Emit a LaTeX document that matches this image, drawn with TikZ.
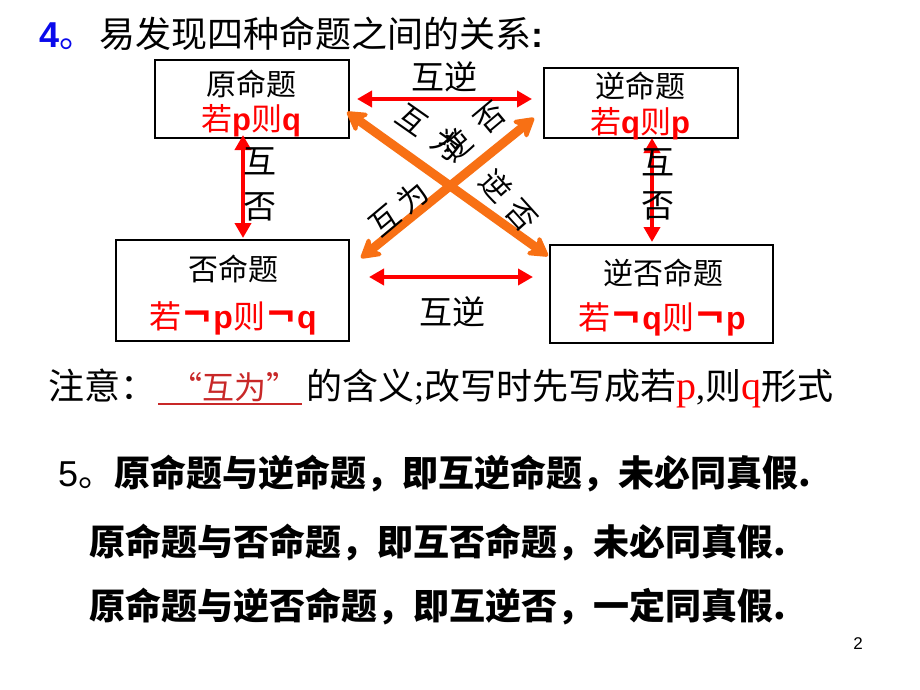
\documentclass[tikz,border=0pt]{standalone}
\usepackage{fontspec}
\setmainfont{Liberation Sans}
\newfontfamily\cjk{Noto Sans CJK SC}
\newfontfamily\tnr{Liberation Serif}
\usetikzlibrary{arrows.meta}
\definecolor{pred}{RGB}{255,0,0}
\definecolor{porange}{RGB}{248,112,20}
\definecolor{pblue}{RGB}{10,10,235}
\definecolor{pdarkred}{RGB}{200,40,40}
\newcommand\fsz[1]{\fontsize{#1pt}{#1pt}\selectfont}
\begin{document}
\begin{tikzpicture}[x=1pt,y=-1pt,
  pbox/.style={draw=black, line width=1.8pt, rectangle, inner sep=0},
  txt/.style={inner sep=0, anchor=base},
  txtw/.style={inner sep=0, anchor=base west},
  redarr/.style={draw=pred, line width=4.5pt, {Triangle[length=15pt,width=16pt]}-{Triangle[length=15pt,width=16pt]}},
  orarr/.style={draw=porange, line width=9pt, {Stealth[length=24pt,width=28pt,inset=8pt,round]}-{Stealth[length=24pt,width=28pt,inset=8pt,round]}},
  rlab/.style={inner sep=0, font=\cjk\fsz{33}},
  dlab/.style={inner sep=0, font=\cjk\fsz{30}},
]
\useasboundingbox (0,0) rectangle (920,690);
\fill[white] (0,0) rectangle (920,690);

% title
\node[txtw] (title) at (39,48) {\fsz{36}{\color{pblue}{\bfseries 4}\cjk 。}\hspace{4pt}{\cjk 易发现四种命题之间的关系}\textbf{:}};

% boxes
\node[pbox, minimum width=194pt, minimum height=78pt] (yuan) at (252,99) {};
\node[pbox, minimum width=194pt, minimum height=70pt] (ni) at (641,103) {};
\node[pbox, minimum width=233pt, minimum height=101pt] (fou) at (232.5,290.5) {};
\node[pbox, minimum width=223pt, minimum height=98pt] (nifou) at (661.5,294) {};

% box texts
\node[txt, font=\cjk\fsz{30}] (yuanT) at (251,96) {原命题};
\node[txt, font=\fsz{31}, text=pred] (yuanF) at (251,131) {{\cjk 若}\textbf{p}{\cjk 则}\textbf{q}};
\node[txt, font=\cjk\fsz{30}] (niT) at (640,98) {逆命题};
\node[txt, font=\fsz{31}, text=pred] (niF) at (640,133) {{\cjk 若}\textbf{q}{\cjk 则}\textbf{p}};
\node[txt, font=\cjk\fsz{30}] (fouT) at (233,280) {否命题};
\node[txt, font=\fsz{32}, text=pred] (fouF) at (233,328) {{\cjk 若\bfseries ￢}\textbf{p}{\cjk 则\bfseries ￢}\textbf{q}};
\node[txt, font=\cjk\fsz{30}] (nifouT) at (663,284) {逆否命题};
\node[txt, font=\fsz{32}, text=pred] (nifouF) at (662,329) {{\cjk 若\bfseries ￢}\textbf{q}{\cjk 则\bfseries ￢}\textbf{p}};

% connector end points
\coordinate (t1) at (357,99);
\coordinate (t2) at (532,99);
\coordinate (b1) at (369,277);
\coordinate (b2) at (533,277);
\coordinate (l1) at (243,135);
\coordinate (l2) at (243,238);
\coordinate (r1) at (652,138);
\coordinate (r2) at (652,242);
\coordinate (tl) at (347,112);
\coordinate (br) at (548,256);
\coordinate (tr) at (534,118);
\coordinate (bl) at (361,258);

% orange diagonals
\draw[orarr] (tl) -- (br);
\draw[orarr] (bl) -- (tr);

% red arrows
\draw[redarr] (t1) -- (t2);
\draw[redarr] (b1) -- (b2);
\draw[redarr] (l1) -- (l2);
\draw[redarr] (r1) -- (r2);

% red arrow labels
\node[rlab] (labT) at (444,77) {互逆};
\node[rlab] (labB) at (452,312) {互逆};
\node[rlab] (labL1) at (260,161) {互};
\node[rlab] (labL2) at (260,207) {否};
\node[rlab] (labR1) at (658,162) {互};
\node[rlab] (labR2) at (658,206) {否};

% diagonal labels
\node[dlab, rotate=-35] (dU1) at (429.5,132.5) {互\hspace{13pt}为};
\node[dlab, rotate=40] (dU2) at (473,131) {逆\hspace{13pt}否};
\node[dlab, rotate=40] (dL1) at (398.5,208.5) {互\hspace{7pt}为};
\node[dlab, rotate=-48] (dL2) at (509,200.5) {逆\hspace{10pt}否};

% note line
\node[txtw, font=\cjk\fsz{36}] (note1) at (48,399) {注意：};
\node[txtw, font=\cjk\fsz{32}, text=pdarkred] (note2) at (170,399) {“互为”};
\coordinate (u1) at (158,404);
\coordinate (u2) at (302,404);
\draw[pdarkred, line width=1.5pt] (u1) -- (u2);
\node[txtw, font=\cjk\fsz{36}] (note3) at (306,399) {的含义{\tnr ;}改写时先写成若{\tnr\fsz{40}\color{pred}p}{\tnr ,}则{\tnr\fsz{40}\color{pred}q}形式};

% conclusions
\node[txtw, font=\fsz{36}] (c1) at (58,486) {5{\cjk 。\bfseries 原命题与逆命题，即互逆命题，未必同真假.}};
\node[txtw, font=\cjk\bfseries\fsz{36}] (c2) at (89,555) {原命题与否命题，即互否命题，未必同真假.};
\node[txtw, font=\cjk\bfseries\fsz{36}] (c3) at (89,619) {原命题与逆否命题，即互逆否，一定同真假.};

% page number
\node[inner sep=0, font=\fsz{17}] (pg) at (858,644) {2};
\end{tikzpicture}
\end{document}
